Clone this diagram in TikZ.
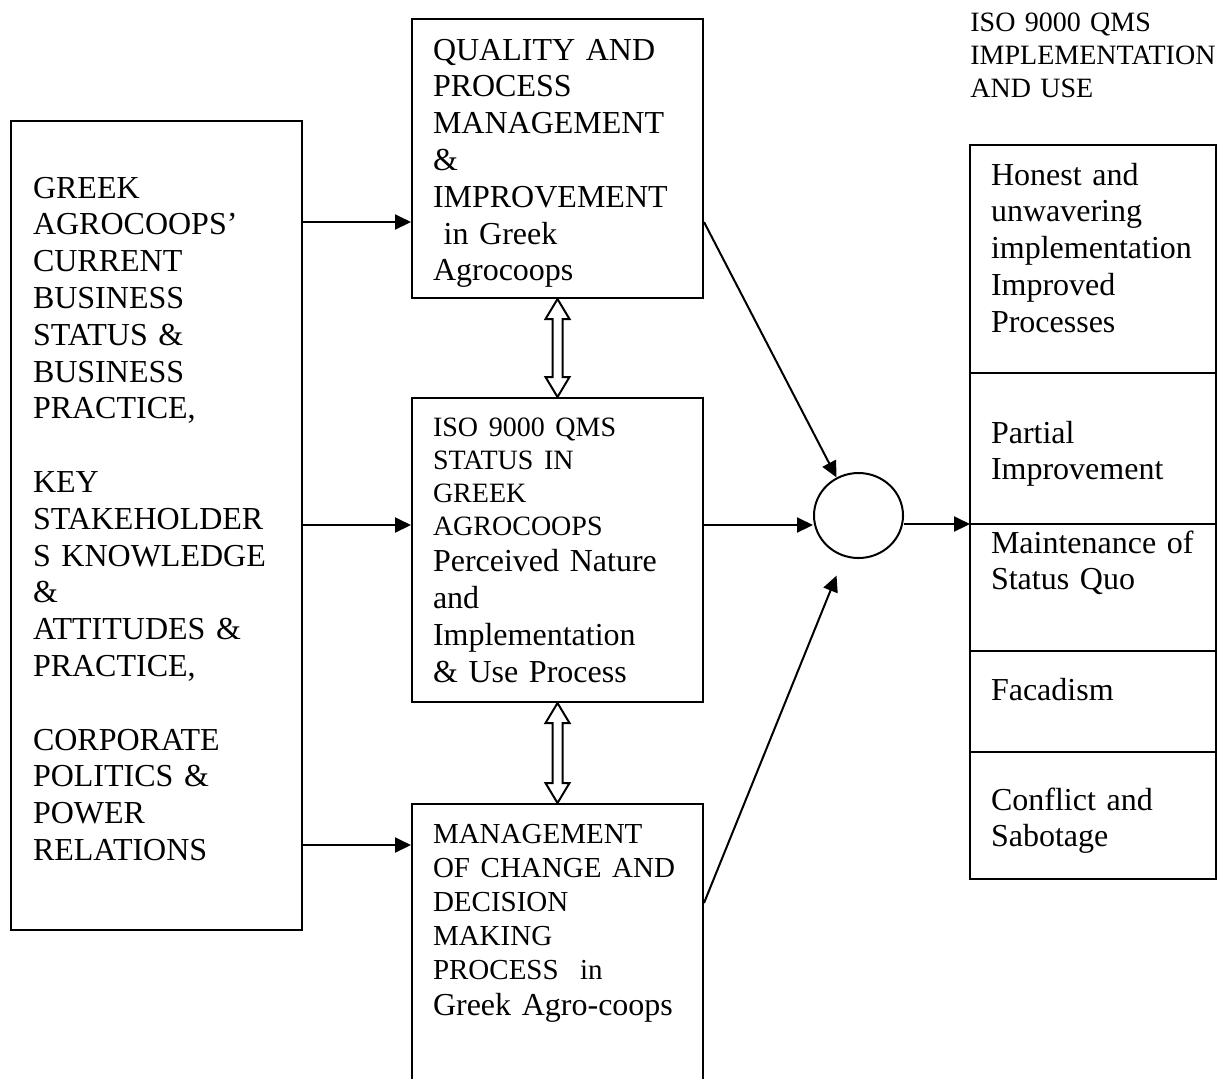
\documentclass[tikz,border=0pt]{standalone}
\usepackage{fontspec}
\setmainfont{Liberation Serif}
\usetikzlibrary{arrows.meta,positioning,calc,shapes.geometric}
\newcommand{\bigtxt}{\fontsize{16}{18.4}\selectfont}
\newcommand{\smalltxt}{\fontsize{14}{16.5}\selectfont}
\newcommand{\midtxt}{\fontsize{14.5}{17}\selectfont}

\begin{document}
\begin{tikzpicture}[x=0.5pt,y=-0.5pt,
  box/.style={draw,line width=1pt,rectangle,align=left,font=\bigtxt,inner xsep=10.5pt,text width=124.5pt,minimum width=145.5pt},
  outcome/.style={draw,line width=1pt,rectangle,outer sep=0pt,align=left,font=\bigtxt,inner xsep=10.5pt,inner ysep=0pt,text width=102pt,minimum width=123pt},
  conn/.style={line width=1pt,-{Triangle[length=8pt,width=7.5pt]}},
  twoway/.style={line width=1pt,line join=miter}]
  \useasboundingbox (0,0) rectangle (1224,1078);
  \clip (0,0) rectangle (1224,1078);

  % Input box
  \node[box,anchor=north,inner xsep=11pt,inner ysep=0pt,text width=123.5pt,text height=38.5pt,text depth=366pt] (lhs) at (156.5,120)
    {GREEK\\ AGROCOOPS'\\ CURRENT\\ BUSINESS\\ STATUS~\&\\ BUSINESS\\ PRACTICE,\\[18.4pt]
     KEY\\ STAKEHOLDER\\ S~KNOWLEDGE\\ \&\\ ATTITUDES~\&\\ PRACTICE,\\[18.4pt]
     CORPORATE\\ POLITICS~\&\\ POWER\\ RELATIONS};

  % Middle column
  \node[box,anchor=north,inner ysep=0pt,text height=20.5pt,text depth=119pt] (qpm) at (557.5,18)
    {QUALITY~AND\\ PROCESS\\ MANAGEMENT\\ \&\\ IMPROVEMENT\\ \mbox{} in~Greek\\ Agrocoops};
  \node[box,minimum height=152pt] (iso) at (557.5,550)
    {{\smalltxt ISO~9000~QMS\\ STATUS~IN\\ GREEK\\ AGROCOOPS\par}Perceived~Nature\\ and\\ Implementation\\ \&~Use~Process};
  \node[box,anchor=north,inner ysep=0pt,text height=19.5pt,text depth=130pt] (mgmt) at (557.5,803)
    {{\midtxt MANAGEMENT\\ OF~CHANGE~AND\\ DECISION\\ MAKING\\ PROCESS\ \ in\par}\mbox{Greek Agro-coops}};

  % Hub
  \node[draw,ellipse,line width=1pt,minimum width=44.5pt,minimum height=42.5pt,inner sep=0pt] (hub) at (858.5,515.5) {};

  % Outcomes
  \node[anchor=base west,inner sep=0pt,align=left,font=\smalltxt,text width=130pt] (head) at (970,31)
    {ISO 9000 QMS\\ IMPLEMENTATION\\ AND USE};
  \node[outcome,anchor=north,text height=20pt,text depth=94pt] (out1) at (1093,145)
    {Honest~and\\ unwavering\\ implementation\\ Improved\\ Processes};
  \node[outcome,text height=35pt,text depth=40.5pt,below=0pt of out1] (out2) {Partial\\ Improvement};
  \node[outcome,text height=14.5pt,text depth=49pt,below=0pt of out2] (out3) {Maintenance~of\\ Status~Quo};
  \node[outcome,text height=24.5pt,text depth=26pt,below=0pt of out3] (out4) {Facadism};
  \node[outcome,text height=29pt,text depth=34.5pt,below=0pt of out4] (out5) {Conflict~and\\ Sabotage};

  % Arrows
  \draw[conn] (lhs.east |- 0,222) -- (qpm.west |- 0,222);
  \draw[conn] (lhs.east |- 0,525) -- (iso.west |- 0,525);
  \draw[conn] (lhs.east |- 0,845) -- (mgmt.west |- 0,845);
  \draw[conn] (qpm.east |- 0,222) -- (hub.120);
  \draw[conn] (iso.east |- 0,525) -- (hub.west |- 0,525);
  \draw[conn] (mgmt.east |- 0,903) -- ([yshift=-11pt]hub.240);
  \draw[conn] (hub.east |- 0,524) -- (out3.north west);

  % Two-way links
  \foreach \a/\b in {qpm/iso,iso/mgmt}
    \draw[twoway] (\a.south) -- ([shift={(12,20)}]\a.south) -- ([shift={(5,20)}]\a.south)
      -- ([shift={(5,-20)}]\b.north) -- ([shift={(12,-20)}]\b.north) -- (\b.north)
      -- ([shift={(-12,-20)}]\b.north) -- ([shift={(-5,-20)}]\b.north)
      -- ([shift={(-5,20)}]\a.south) -- ([shift={(-12,20)}]\a.south) -- cycle;
\end{tikzpicture}
\end{document}
